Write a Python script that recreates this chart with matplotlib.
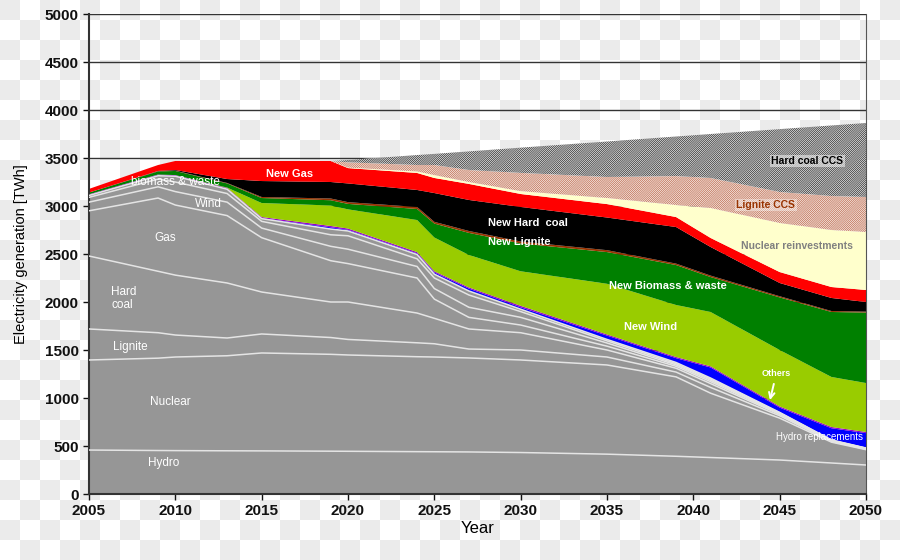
import numpy as np
import matplotlib.pyplot as plt
from matplotlib.colors import ListedColormap

plt.rcParams['font.family'] = ['Liberation Sans', 'DejaVu Sans']

years = [2005, 2009, 2010, 2013, 2015, 2019, 2020, 2024, 2025, 2027,
         2030, 2035, 2039, 2041, 2045, 2048, 2050]

# existing plants (grey block)
hydro = [458, 453, 452, 450, 449, 446, 445, 441, 440, 438, 432, 415, 393, 380, 354, 323, 302]
nuclear = [938, 962, 975, 990, 1020, 1009, 1003, 989, 987, 979, 964, 929, 827, 670, 436, 217, 160]
lignite = [323, 265, 229, 185, 198, 175, 162, 145, 138, 93, 104, 83, 50, 60, 25, 8, 4]
hard_coal = [760, 640, 624, 573, 437, 370, 390, 310, 265, 209, 180, 73, 40, 40, 13, 4, 3]
gas = [471, 763, 730, 702, 566, 430, 400, 365, 200, 121, 80, 40, 20, 20, 8, 3, 3]
wind = [90, 117, 140, 140, 100, 150, 150, 120, 110, 105, 80, 33, 15, 15, 6, 3, 3]
biomass = [50, 80, 100, 90, 70, 120, 140, 80, 110, 128, 60, 22, 12, 12, 4, 2, 2]
others = [20, 35, 60, 45, 28, 60, 50, 45, 40, 42, 25, 15, 13, 11, 4, 3, 2]

# new capacity
hydro_repl = [0, 0, 0, 0, 5, 18, 12, 12, 18, 25, 20, 40, 45, 110, 50, 122, 155]
others_new = [12, 13, 12, 13, 12, 14, 13, 13, 12, 12, 15, 12, 12, 12, 12, 13, 12]
new_wind = [0, 0, 0, 4, 146, 213, 200, 334, 352, 338, 360, 528, 542, 566, 588, 521, 510]
new_biomass = [18, 32, 43, 43, 52, 55, 57, 115, 145, 230, 290, 330, 416, 364, 548, 677, 734]
new_lignite = [0, 2, 3, 5, 11, 18, 18, 21, 18, 20, 20, 20, 15, 15, 12, 10, 10]
new_hard_coal = [0, 3, 7, 41, 166, 172, 195, 177, 300, 323, 360, 340, 381, 298, 138, 136, 100]
new_gas = [38, 62, 94, 188, 209, 219, 160, 177, 157, 167, 135, 140, 104, 94, 114, 114, 125]
nuclear_reinv = [0, 0, 0, 0, 0, 0, 5, 16, 30, 20, 30, 63, 125, 312, 511, 594, 604]
lignite_ccs = [0, 0, 0, 0, 0, 0, 55, 67, 105, 125, 190, 219, 302, 313, 323, 354, 365]
hard_coal_ccs = [0, 0, 0, 0, 0, 0, 24, 104, 116, 194, 263, 370, 412, 458, 655, 735, 771]

fig = plt.figure(figsize=(9, 5.6), dpi=100)

# checkered backdrop
bg = fig.add_axes([0, 0, 1, 1], zorder=-10)
checker = np.indices((28, 45)).sum(axis=0) % 2
bg.imshow(checker, cmap=ListedColormap(['#ebebeb', '#ffffff']), aspect='auto',
          interpolation='nearest', extent=(0, 1, 0, 1))
bg.axis('off')

ax = fig.add_axes([89 / 900, 66 / 560, 777 / 900, 480 / 560])
ax.set_facecolor('none')

layers = [hydro, nuclear, lignite, hard_coal, gas, wind, biomass, others,
          hydro_repl, others_new, new_wind, new_biomass, new_lignite,
          new_hard_coal, new_gas, nuclear_reinv]
colors = ['#969696'] * 8 + ['#0000ff', '#9900cc', '#99cc00', '#008000',
                            '#993300', '#000000', '#ff0000', '#ffffcc']
ax.stackplot(years, *layers, colors=colors, linewidth=0, zorder=2)

tops = np.cumsum(np.array(layers), axis=0)
for i in range(8):
    ax.plot(years, tops[i], color='#e4e4e4', lw=1.1, zorder=3)

base = tops[-1]
with plt.rc_context({'hatch.color': '#c27458', 'hatch.linewidth': 0.6}):
    ax.fill_between(years, base, base + np.array(lignite_ccs), facecolor='white',
                    edgecolor='#c27458', hatch='/' * 16, linewidth=0, zorder=2)
base = base + np.array(lignite_ccs)
with plt.rc_context({'hatch.color': '#3c3c3c', 'hatch.linewidth': 0.6}):
    ax.fill_between(years, base, base + np.array(hard_coal_ccs), facecolor='white',
                    edgecolor='#3c3c3c', hatch='/' * 16, linewidth=0, zorder=2)

# labels
grey_txt = dict(color='white', fontsize=8.5, ha='center', va='center', zorder=5)
ax.text(2010.0, 3255, 'biomass & waste', **grey_txt)
ax.text(2011.9, 3021, 'Wind', **grey_txt)
ax.text(2009.4, 2667, 'Gas', **grey_txt)
ax.text(2006.3, 2040, 'Hard\ncoal', color='white', fontsize=8.5, ha='left', va='center',
        linespacing=1.1, zorder=5)
ax.text(2007.4, 1531, 'Lignite', **grey_txt)
ax.text(2009.7, 958, 'Nuclear', **grey_txt)
ax.text(2009.3, 323, 'Hydro', **grey_txt)

new_txt = dict(color='white', fontsize=8, fontweight='bold', ha='center', va='center', zorder=5)
ax.text(2016.6, 3333, 'New Gas', **new_txt)
ax.text(2030.4, 2823, 'New Hard  coal', **new_txt)
ax.text(2029.9, 2625, 'New Lignite', **new_txt)
ax.text(2038.5, 2167, 'New Biomass & waste', **new_txt)
ax.text(2037.5, 1740, 'New Wind', **new_txt)
ax.text(2044.8, 1250, 'Others', color='white', fontsize=6.5, fontweight='bold',
        ha='center', va='center', zorder=5)
ax.annotate('', xy=(2044.4, 950), xytext=(2044.7, 1175),
            arrowprops=dict(arrowstyle='->', color='white', lw=1.4), zorder=5)
ax.text(2047.3, 594, 'Hydro replacements', color='white', fontsize=7,
        ha='center', va='center', zorder=5, clip_on=False)
ax.text(2046.6, 3469, 'Hard coal CCS', color='black', fontsize=7.5, fontweight='bold',
        ha='center', va='center', zorder=5,
        bbox=dict(facecolor='white', alpha=0.5, edgecolor='none', pad=1))
ax.text(2044.2, 3010, 'Lignite CCS', color='#993300', fontsize=7.5, fontweight='bold',
        ha='center', va='center', zorder=5,
        bbox=dict(facecolor='white', alpha=0.4, edgecolor='none', pad=1))
ax.text(2046.0, 2583, 'Nuclear reinvestments', color='#808080', fontsize=7.5,
        fontweight='bold', ha='center', va='center', zorder=5)

ax.set_xlim(2005, 2050)
ax.set_ylim(0, 5000)
ax.set_xticks(range(2005, 2051, 5))
ax.set_yticks(range(0, 5001, 500))
ax.yaxis.grid(True, color='#333333', lw=1)
ax.set_axisbelow(True)
ax.spines['top'].set_visible(False)
ax.spines['right'].set_color('#555555')
ax.spines['right'].set_linewidth(0.8)
for side in ['left', 'bottom']:
    ax.spines[side].set_color('#333333')
    ax.spines[side].set_linewidth(1.5)
ax.tick_params(direction='out', length=4, width=1, labelsize=11, colors='#111111')
for lbl in ax.get_xticklabels() + ax.get_yticklabels():
    lbl.set_fontweight('bold')
ax.set_ylabel('Electricity generation [TWh]', fontsize=10.5, labelpad=12)
ax.set_xlabel('Year', fontsize=12, labelpad=2)

fig.savefig('out.png', dpi=100)
